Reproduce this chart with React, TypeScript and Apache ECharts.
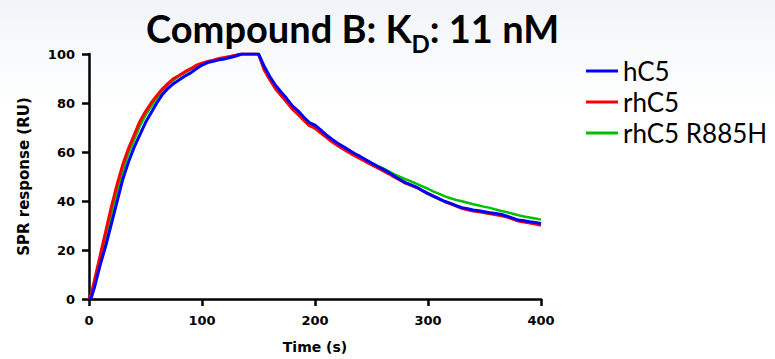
import React, { useEffect, useRef } from "react";
import * as echarts from "echarts";

const times = [
  0, 2, 5, 10, 15, 20, 25, 30, 35, 40, 45, 50, 55, 60, 65, 70, 75, 80, 85, 90, 95, 100,
  105, 110, 115, 120, 125, 130, 135, 140, 145, 150, 155, 160, 165, 170, 175, 180, 185, 190,
  195, 200, 205, 210, 215, 220, 225, 230, 235, 240, 245, 250, 255, 260, 265, 270, 275, 280,
  285, 290, 295, 300, 305, 310, 315, 320, 325, 330, 335, 340, 345, 350, 355, 360, 365, 370,
  375, 380, 385, 390, 395, 400,
];

const hC5 = [
  0, 0.5, 5, 14, 22, 31, 40, 49, 56, 62, 67, 72, 76, 80, 83.5, 86, 88, 89.5, 91, 92.3, 94, 95.5,
  96.5, 97, 97.6, 98, 98.6, 99.2, 100, 100, 100, 100,
  95, 90.8, 87.3, 84.5, 81.8, 78.8, 76.8, 74.3, 72, 71, 69, 67, 65.2, 63.6, 62.2, 60.8, 59.4,
  58.2, 56.8, 55.5, 54.2, 53, 51.7, 50.2, 48.8, 47.5, 46.6, 45.6, 44.3, 43.0, 41.9, 40.9, 39.8,
  39.0, 38.1, 37.3, 36.8, 36.3, 36.0, 35.6, 35.2, 34.9, 34.5, 33.8, 33.0, 32.2, 31.9, 31.5,
  31.2, 30.8,
];

const rhC5 = [
  0, 2, 8, 18, 28, 38, 47, 55, 61.5, 67, 72.5, 76.5, 80, 83, 85.8, 88, 90, 91.3, 92.8, 94, 95.4,
  96.3, 97, 97.5, 98.2, 98.6, 99, 99.5, 100, 100, 100, 100,
  93.5, 89.5, 85.8, 83, 80.3, 77.5, 75.3, 73, 70.8, 69.7, 67.8, 66, 64.2, 62.6, 61.2, 59.8, 58.5,
  57.3, 56, 54.8, 53.6, 52.4, 51.2, 49.8, 48.6, 47.3, 46.4, 45.5, 44.2, 43.0, 42.0, 40.8, 39.7,
  38.8, 37.9, 37.0, 36.4, 35.9, 35.6, 35.2, 34.8, 34.4, 34.0, 33.4, 32.6, 31.8, 31.4, 31.0,
  30.6, 30.1,
];

const rhC5R885H = [
  0, 1, 6, 16, 25, 35, 44, 52.5, 59.5, 65, 70.5, 75, 78.5, 82, 85, 87.5, 89.5, 91, 92.5, 93.7, 95,
  96, 96.8, 97.4, 98, 98.5, 99, 99.5, 100, 100, 100, 100,
  94.3, 90.2, 86.6, 83.8, 81, 78.2, 76, 73.7, 71.5, 70.4, 68.5, 66.6, 64.8, 63.2, 61.8, 60.4,
  59.2, 58.0, 56.8, 55.6, 54.4, 53.4, 52.2, 51.0, 49.9, 48.9, 48.0, 47.0, 46.0, 45.0, 43.8, 42.9,
  41.9, 41.1, 40.4, 39.9, 39.3, 38.7, 38.2, 37.6, 37.2, 36.5, 35.9, 35.4, 34.8, 34.2, 33.7,
  33.3, 32.9, 32.4,
];

const seriesNames = ["hC5", "rhC5", "rhC5 R885H"];
const seriesColors = ["#0000ff", "#ff0000", "#00c000"];
const xTicks = { min: 0, max: 400, interval: 100 };
const yTicks = { min: 0, max: 100, interval: 20 };

const pairs = (vals: number[]) => times.map((t, i) => [t, vals[i]]);

const axisCommon = {
  axisLine: { show: true, lineStyle: { color: "#000", width: 2.5 } },
  axisTick: { show: true, inside: false, length: 7, lineStyle: { color: "#000", width: 2.5 } },
  splitLine: { show: false },
};

export default function App() {
  const ref = useRef<HTMLDivElement>(null);
  useEffect(() => {
    if (!ref.current) return;
    const chart = echarts.init(ref.current, null, { renderer: "svg" });
    const option = {
      animation: false,
      backgroundColor: new echarts.graphic.LinearGradient(0, 0, 0, 1, [
        { offset: 0, color: "#f1f4f8" },
        { offset: 0.3, color: "#ffffff" },
        { offset: 1, color: "#ffffff" },
      ]),
      title: {
        text: "{a|Compound B: K}{s|D}{a|: 11 nM}",
        left: 141,
        top: -4,
        textStyle: {
          rich: {
            a: { fontFamily: "Lato", fontWeight: "bold", fontSize: 38, lineHeight: 54, color: "#000", verticalAlign: "middle" },
            s: { fontFamily: "Lato", fontWeight: "bold", fontSize: 24, lineHeight: 24, color: "#000", verticalAlign: "bottom" },
          },
        },
      },
      legend: {
        orient: "vertical",
        left: 581,
        top: 53,
        itemWidth: 32,
        itemHeight: 3,
        itemGap: 5,
        icon: "rect",
        data: seriesNames,
        textStyle: { fontFamily: "Lato", fontSize: 26, color: "#000" },
      },
      grid: { left: 89, right: 234, top: 54, bottom: 58.5 },
      xAxis: {
        type: "value",
        ...xTicks,
        ...axisCommon,
        axisLabel: { fontFamily: "DejaVu Sans", fontWeight: "bold", fontSize: 13, color: "#000", margin: 15 },
        name: "Time (s)",
        nameLocation: "middle",
        nameGap: 41,
        nameTextStyle: { fontFamily: "DejaVu Sans", fontWeight: "bold", fontSize: 14, color: "#000" },
      },
      yAxis: {
        type: "value",
        ...yTicks,
        ...axisCommon,
        axisLabel: { fontFamily: "DejaVu Sans", fontWeight: "bold", fontSize: 13, color: "#000", margin: 14 },
        name: "SPR response (RU)",
        nameLocation: "middle",
        nameGap: 58,
        nameTextStyle: { fontFamily: "DejaVu Sans", fontWeight: "bold", fontSize: 15, color: "#000" },
      },
      series: [
        {
          name: seriesNames[2],
          type: "line",
          data: pairs(rhC5R885H),
          showSymbol: false,
          color: seriesColors[2],
          lineStyle: { width: 2.5, color: seriesColors[2] },
          z: 2,
        },
        {
          name: seriesNames[1],
          type: "line",
          data: pairs(rhC5),
          showSymbol: false,
          color: seriesColors[1],
          lineStyle: { width: 3, color: seriesColors[1] },
          z: 3,
        },
        {
          name: seriesNames[0],
          type: "line",
          data: pairs(hC5),
          showSymbol: false,
          color: seriesColors[0],
          lineStyle: { width: 3, color: seriesColors[0] },
          z: 4,
        },
      ],
    };
    chart.setOption(option as any);
    return () => chart.dispose();
  }, []);
  return <div ref={ref} style={{ position: "fixed", left: 0, top: 0, width: 775, height: 359 }} />;
}
